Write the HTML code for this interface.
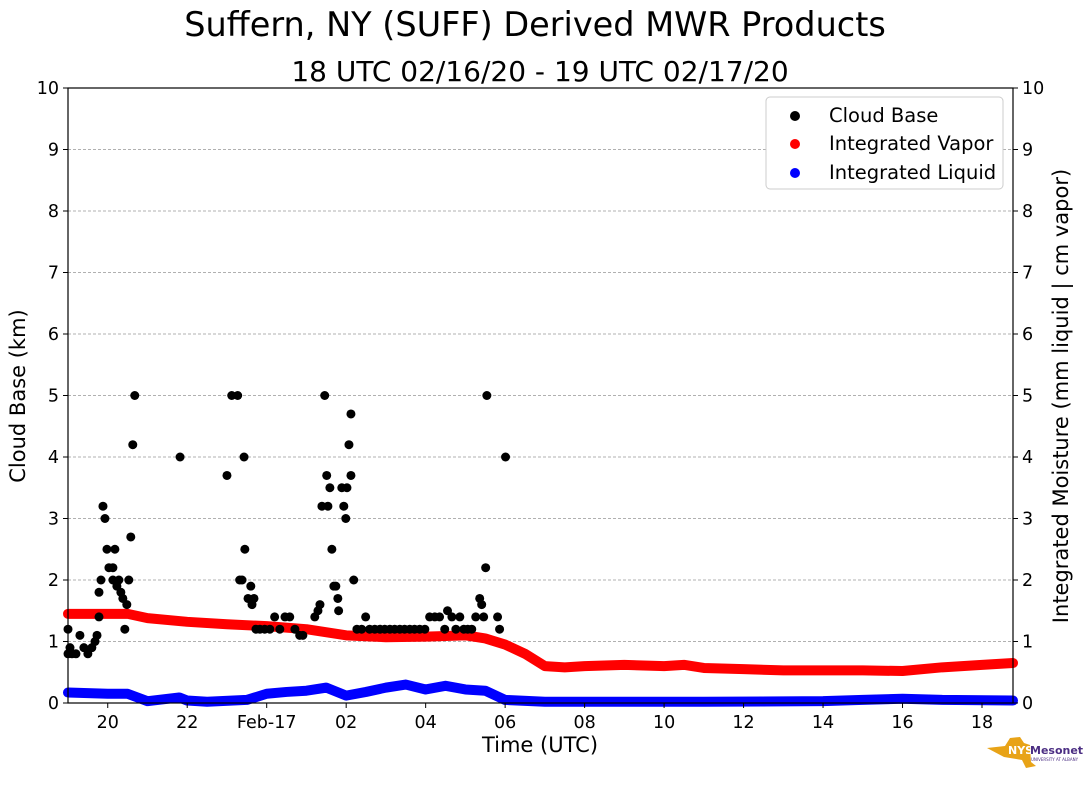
<!DOCTYPE html>
<html><head><meta charset="utf-8"><style>
body{margin:0;background:#fff;font-family:"DejaVu Sans","Liberation Sans",sans-serif}
svg text{font-family:"DejaVu Sans","Liberation Sans",sans-serif}
</style></head><body>
<svg id="chart" width="1089" height="804" xmlns="http://www.w3.org/2000/svg">
<text x="535" y="36" font-size="33.5" text-anchor="middle">Suffern, NY (SUFF) Derived MWR Products</text>
<text x="540" y="81" font-size="28" text-anchor="middle">18 UTC 02/16/20 - 19 UTC 02/17/20</text>
<g id="grid"></g><g id="series"></g><g id="axes"></g>
<g>
<rect x="766" y="97" width="237" height="92" rx="4" fill="#fff" stroke="#ccc"/>
<circle cx="795" cy="116" r="5" fill="#000"/>
<text x="829" y="122" font-size="19.5">Cloud Base</text>
<circle cx="795" cy="144" r="5" fill="#f00"/>
<text x="829" y="150" font-size="19.5">Integrated Vapor</text>
<circle cx="795" cy="173" r="5" fill="#00f"/>
<text x="829" y="179" font-size="19.5">Integrated Liquid</text>
</g>
<g>
<path d="M987 748 L1005 746 L1010 738 L1020 737 L1024 743 L1030 745 L1031 762 L1036 766 L1026 768 L1022 760 L1004 757 Z" fill="#e8a317"/>
<text x="1008" y="754" font-size="11" font-weight="bold" fill="#fff">NYS</text>
<text x="1030" y="754" font-size="11" font-weight="bold" fill="#4b2e83">Mesonet</text>
<text x="1031" y="761" font-size="4" fill="#4b2e83">UNIVERSITY AT ALBANY</text>
</g>
</svg>
<script>
const cloudHours=[19.00,19.00,19.05,19.10,19.20,19.30,19.40,19.50,19.60,19.68,19.73,19.78,19.78,19.83,19.88,19.93,19.98,20.03,20.13,20.13,20.18,20.23,20.28,20.33,20.38,20.43,20.48,20.53,20.58,20.63,20.68,21.82,23.00,23.12,23.27,23.32,23.38,23.43,23.45,23.53,23.60,23.63,23.68,23.73,23.83,23.95,24.08,24.20,24.33,24.46,24.58,24.71,24.83,24.91,25.21,25.29,25.34,25.39,25.46,25.51,25.54,25.59,25.64,25.69,25.74,25.79,25.81,25.89,25.94,25.99,26.02,26.07,26.12,26.12,26.19,26.27,26.39,26.49,26.59,26.72,26.85,26.97,27.10,27.22,27.35,27.47,27.60,27.72,27.85,27.98,28.10,28.23,28.35,28.48,28.55,28.66,28.76,28.86,28.96,29.06,29.16,29.26,29.36,29.41,29.46,29.51,29.54,29.81,29.86,30.01];
const cloudKm=[1.2,0.8,0.9,0.8,0.8,1.1,0.9,0.8,0.9,1.0,1.1,1.8,1.4,2.0,3.2,3.0,2.5,2.2,2.2,2.0,2.5,1.9,2.0,1.8,1.7,1.2,1.6,2.0,2.7,4.2,5.0,4.0,3.7,5.0,5.0,2.0,2.0,4.0,2.5,1.7,1.9,1.6,1.7,1.2,1.2,1.2,1.2,1.4,1.2,1.4,1.4,1.2,1.1,1.1,1.4,1.5,1.6,3.2,5.0,3.7,3.2,3.5,2.5,1.9,1.9,1.7,1.5,3.5,3.2,3.0,3.5,4.2,4.7,3.7,2.0,1.2,1.2,1.4,1.2,1.2,1.2,1.2,1.2,1.2,1.2,1.2,1.2,1.2,1.2,1.2,1.4,1.4,1.4,1.2,1.5,1.4,1.2,1.4,1.2,1.2,1.2,1.4,1.7,1.6,1.4,2.2,5.0,1.4,1.2,4.0];
const vaporHours=[19,20,20.5,21,22,23,24,25,26,27,28,29,29.5,30,30.5,31,31.5,32,33,34,34.5,35,36,37,38,39,40,41,42,42.78];
const vaporVals=[1.45,1.45,1.45,1.38,1.32,1.28,1.25,1.2,1.1,1.07,1.08,1.1,1.05,0.95,0.8,0.6,0.58,0.6,0.62,0.6,0.62,0.57,0.55,0.53,0.53,0.53,0.52,0.58,0.62,0.65];
const liquidHours=[19,20,20.5,21,21.8,22,22.5,23.5,24,24.5,25,25.5,26,26.5,27,27.5,28,28.5,29,29.5,30,31,35,38,39,40,41,42.78];
const liquidVals=[0.17,0.15,0.15,0.03,0.09,0.04,0.02,0.05,0.15,0.18,0.2,0.25,0.12,0.18,0.25,0.3,0.22,0.28,0.22,0.2,0.05,0.02,0.02,0.03,0.05,0.07,0.05,0.04];
const xTickHours=[20,22,24,26,28,30,32,34,36,38,40,42];
const xTickLabels=["20","22","Feb-17","02","04","06","08","10","12","14","16","18"];
const yTicks=[0,1,2,3,4,5,6,7,8,9,10];
const X0=68,X1=1013,Y0=703,Y1=88,H0=19,H1=42.78;
const xs=h=>X0+(h-H0)/(H1-H0)*(X1-X0);
const ys=v=>Y0-v/10*(Y0-Y1);
const NS="http://www.w3.org/2000/svg";
function mk(t,a,p){const e=document.createElementNS(NS,t);for(const k in a)e.setAttribute(k,a[k]);p.appendChild(e);return e;}
const grid=document.getElementById('grid'),ser=document.getElementById('series'),ax=document.getElementById('axes');
yTicks.forEach(v=>{if(v>0&&v<10){const l=mk('line',{x1:X0,x2:X1,y1:ys(v),y2:ys(v),stroke:'#b0b0b0','stroke-dasharray':'3,2'},grid);

}});
function band(hs,vs,col,name){const pts=hs.map((h,i)=>xs(h)+','+ys(vs[i])).join(' ');
const p=mk('polyline',{points:pts,fill:'none',stroke:col,'stroke-width':10,'stroke-linejoin':'round','stroke-linecap':'round'},ser);

}
band(vaporHours,vaporVals,'#f00','integrated-vapor-series');
band(liquidHours,liquidVals,'#00f','integrated-liquid-series');
cloudHours.forEach((h,i)=>{const c=mk('circle',{cx:xs(h),cy:ys(cloudKm[i]),r:4.5,fill:'#000'},ser);

});
const fr=mk('rect',{x:X0,y:Y1,width:X1-X0,height:Y0-Y1,fill:'none',stroke:'#000','stroke-width':1.2},ax);


yTicks.forEach(v=>{mk('line',{x1:X0-5,x2:X0,y1:ys(v),y2:ys(v),stroke:'#000'},ax);mk('line',{x1:X1,x2:X1+5,y1:ys(v),y2:ys(v),stroke:'#000'},ax);
const a=mk('text',{x:X0-9,y:ys(v)+6,'font-size':17.5,'text-anchor':'end'},ax);a.textContent=v;


const b=mk('text',{x:X1+9,y:ys(v)+6,'font-size':17.5},ax);b.textContent=v;

});
xTickHours.forEach((h,i)=>{mk('line',{x1:xs(h),x2:xs(h),y1:Y0,y2:Y0+5,stroke:'#000'},ax);
const t=mk('text',{x:xs(h),y:Y0+25,'font-size':17.5,'text-anchor':'middle'},ax);t.textContent=xTickLabels[i];

});
const xl=mk('text',{x:540,y:752,'font-size':21,'text-anchor':'middle'},ax);xl.textContent='Time (UTC)';


const yl=mk('text',{x:25,y:396,'font-size':21,'text-anchor':'middle',transform:'rotate(-90 25 396)'},ax);yl.textContent='Cloud Base (km)';


const yr=mk('text',{x:1068,y:396,'font-size':21,'text-anchor':'middle',transform:'rotate(-90 1068 396)'},ax);yr.textContent='Integrated Moisture (mm liquid | cm vapor)';


</script>
</body></html>
